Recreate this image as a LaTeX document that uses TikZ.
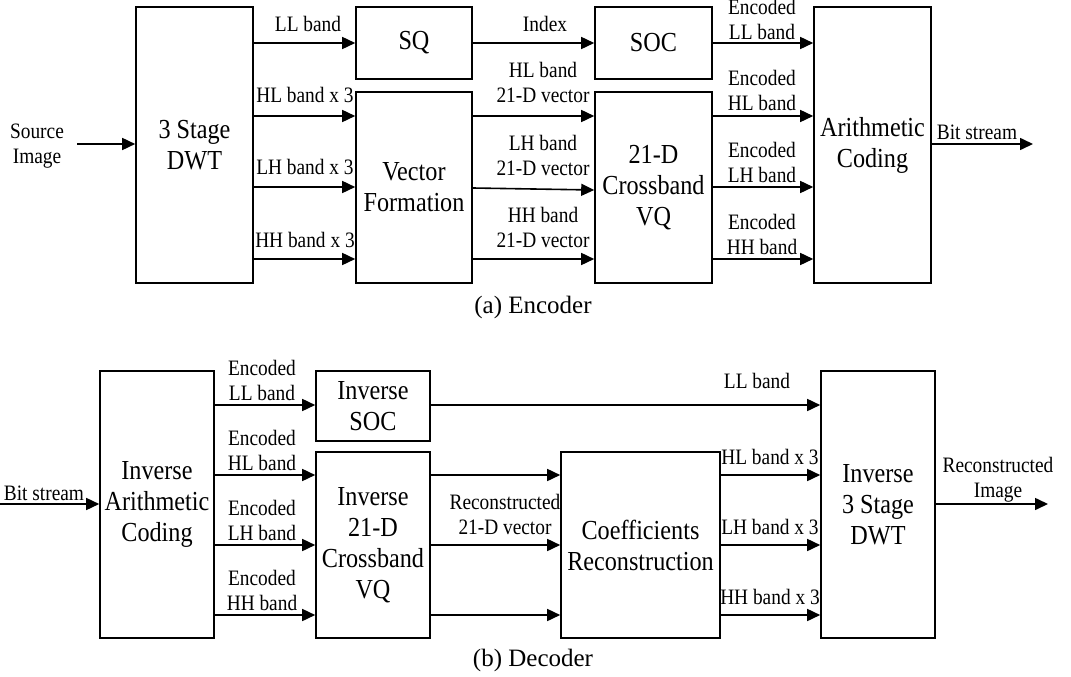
\documentclass[tikz,border=0pt]{standalone}
\usepackage{fontspec}
\setmainfont{Liberation Serif}
\newfontfamily\condfont[FakeStretch=0.88]{Liberation Serif}
\usetikzlibrary{arrows.meta}
\tikzset{
  blk/.style={draw, line width=1.6pt, inner sep=0pt, align=center,
    font=\condfont\fontsize{27.5}{31}\selectfont},
  arr/.style={line width=1.6pt, -{Triangle[length=13pt,width=12pt]}},
  lbl/.style={inner sep=0pt, align=center, anchor=south,
    font=\condfont\fontsize{22}{25}\selectfont},
  captext/.style={inner sep=0pt, anchor=base, font=\fontsize{25}{28}\selectfont}
}
\begin{document}
\begin{tikzpicture}[x=1pt,y=-1pt]
\useasboundingbox (0,0) rectangle (1071,677);
% ---------------- Encoder ----------------
\node[blk, minimum width=117pt, minimum height=276pt] (dwt) at (194.5,145) {3 Stage\\DWT};
\node[blk, minimum width=116pt, minimum height=72pt] (sq) at (414,43) {SQ};
\node[blk, minimum width=116pt, minimum height=191pt] (vf) at (414,187.5) {Vector\\Formation};
\node[blk, minimum width=117pt, minimum height=72pt] (soc) at (653.5,43) {SOC};
\node[blk, minimum width=117pt, minimum height=191pt] (vq) at (653.5,187.5) {21-D\\Crossband\\VQ};
\node[blk, minimum width=117pt, minimum height=276pt] (ac) at (872.5,145) {Arithmetic\\Coding};

\coordinate (src) at (77,144);
\coordinate (bsout) at (1033,144);
\draw[arr] (src) -- (dwt.west |- src);
\draw[arr] (ac.east |- bsout) -- (bsout);

\draw[arr] (dwt.east |- 0,43) -- (sq.west |- 0,43);
\draw[arr] (dwt.east |- 0,116) -- (vf.west |- 0,116);
\draw[arr] (dwt.east |- 0,187) -- (vf.west |- 0,187);
\draw[arr] (dwt.east |- 0,259) -- (vf.west |- 0,259);

\draw[arr] (sq.east |- 0,43) -- (soc.west |- 0,43);
\draw[arr] (vf.east |- 0,116) -- (vq.west |- 0,116);
\draw[arr] (vf.east |- 0,188) -- (vq.west |- 0,190);
\draw[arr] (vf.east |- 0,259) -- (vq.west |- 0,259);

\draw[arr] (soc.east |- 0,43) -- (ac.west |- 0,43);
\draw[arr] (vq.east |- 0,116) -- (ac.west |- 0,116);
\draw[arr] (vq.east |- 0,187) -- (ac.west |- 0,187);
\draw[arr] (vq.east |- 0,259) -- (ac.west |- 0,259);

\node[lbl] (lsrc) at (37,168) {Source\\Image};
\node[lbl] (lbs1) at (977,140) {Bit stream};
\node[lbl] (lll1) at (308,32) {LL band};
\node[lbl] (lhl1) at (305,103) {HL band x 3};
\node[lbl] (llh1) at (305,175) {LH band x 3};
\node[lbl] (lhh1) at (305,248) {HH band x 3};
\node[lbl] (lidx) at (545,32) {Index};
\node[lbl] (lhlv) at (543,103) {HL band\\21-D vector};
\node[lbl] (llhv) at (543,176) {LH band\\21-D vector};
\node[lbl] (lhhv) at (543,248) {HH band\\21-D vector};
\node[lbl] (lell) at (762,40) {Encoded\\LL band};
\node[lbl] (lehl) at (762,111) {Encoded\\HL band};
\node[lbl] (lelh) at (762,183) {Encoded\\LH band};
\node[lbl] (lehh) at (762,255) {Encoded\\HH band};
\node[captext] (capa) at (533,313) {(a) Encoder};

% ---------------- Decoder ----------------
\node[blk, minimum width=114pt, minimum height=267pt] (iac) at (157,504.5) {Inverse\\Arithmetic\\Coding};
\node[blk, minimum width=114pt, minimum height=70pt] (isoc) at (373,406) {Inverse\\SOC};
\node[blk, minimum width=114pt, minimum height=186pt] (ivq) at (373,545) {Inverse\\21-D\\Crossband\\VQ};
\node[blk, minimum width=159pt, minimum height=186pt] (cr) at (640.5,545) {Coefficients\\Reconstruction};
\node[blk, minimum width=114pt, minimum height=267pt] (idwt) at (878,504.5) {Inverse\\3 Stage\\DWT};

\coordinate (bsin) at (0,504);
\coordinate (imout) at (1048,504);
\draw[arr] (bsin) -- (iac.west |- bsin);
\draw[arr] (idwt.east |- imout) -- (imout);

\draw[arr] (iac.east |- 0,405) -- (isoc.west |- 0,405);
\draw[arr] (iac.east |- 0,475) -- (ivq.west |- 0,475);
\draw[arr] (iac.east |- 0,545) -- (ivq.west |- 0,545);
\draw[arr] (iac.east |- 0,615) -- (ivq.west |- 0,615);

\draw[arr] (isoc.east |- 0,405) -- (idwt.west |- 0,405);
\draw[arr] (ivq.east |- 0,475) -- (cr.west |- 0,475);
\draw[arr] (ivq.east |- 0,545) -- (cr.west |- 0,545);
\draw[arr] (ivq.east |- 0,615) -- (cr.west |- 0,615);

\draw[arr] (cr.east |- 0,475) -- (idwt.west |- 0,475);
\draw[arr] (cr.east |- 0,545) -- (idwt.west |- 0,545);
\draw[arr] (cr.east |- 0,615) -- (idwt.west |- 0,615);

\node[lbl] (lbs2) at (44,501) {Bit stream};
\node[lbl] (ldll) at (262,401) {Encoded\\LL band};
\node[lbl] (ldhl) at (262,471) {Encoded\\HL band};
\node[lbl] (ldlh) at (262,541) {Encoded\\LH band};
\node[lbl] (ldhh) at (262,611) {Encoded\\HH band};
\node[lbl] (lrv) at (505,535) {Reconstructed\\21-D vector};
\node[lbl] (lll2) at (757,389) {LL band};
\node[lbl] (lhl2) at (770,465) {HL band x 3};
\node[lbl] (llh2) at (770,535) {LH band x 3};
\node[lbl] (lhh2) at (770,605) {HH band x 3};
\node[lbl] (lrim) at (998,502) {Reconstructed\\Image};
\node[captext] (capb) at (533,666) {(b) Decoder};
\end{tikzpicture}
\end{document}
